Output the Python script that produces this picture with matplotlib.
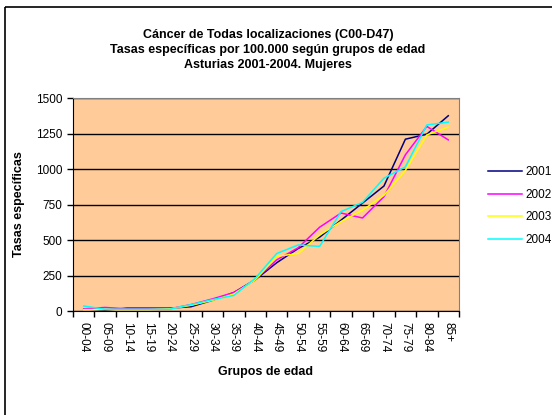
import numpy as np
import matplotlib
matplotlib.use("Agg")
import matplotlib.pyplot as plt
from matplotlib.patches import Rectangle
from matplotlib.transforms import Affine2D

plt.rcParams['font.family'] = ['Liberation Sans', 'DejaVu Sans']

grupos = ["00-04", "05-09", "10-14", "15-19", "20-24", "25-29", "30-34", "35-39", "40-44",
          "45-49", "50-54", "55-59", "60-64", "65-69", "70-74", "75-79", "80-84", "85+"]
t2001 = [15, 5, 20, 20, 20, 30, 75, 130, 220, 340, 440, 520, 640, 760, 880, 1210, 1245, 1375]
t2002 = [15, 25, 15, 15, 15, 45, 85, 130, 220, 360, 445, 590, 690, 655, 805, 1100, 1300, 1205]
t2003 = [10, 10, 10, 10, 15, 40, 75, 120, 220, 385, 405, 535, 630, 710, 815, 990, 1240, 1295]
t2004 = [35, 12, 12, 12, 12, 45, 80, 110, 230, 405, 465, 455, 700, 765, 935, 1015, 1310, 1330]

series = [("2001", t2001, "#000080"), ("2002", t2002, "#FF00FF"),
          ("2003", t2003, "#FFFF00"), ("2004", t2004, "#00FFFF")]

fig = plt.figure(figsize=(5.52, 4.15), dpi=100)
W, H = 552, 415
ax = fig.add_axes([73 / W, 1 - 311 / H, (459 - 73) / W, (311 - 98) / H])
ax.set_facecolor("#FFCC99")

x = np.arange(len(grupos))
for name, vals, col in series:
    ax.plot(x, vals, color=col, lw=1.1, label=name)

ax.set_xlim(-0.5, len(grupos) - 0.5)
ax.set_ylim(0, 1500)
ax.set_yticks(np.arange(0, 1501, 250))
ax.tick_params(axis='y', labelsize=8.5, length=4, width=1)
ax.yaxis.grid(True, color='black', lw=1)
ax.set_axisbelow(True)

ax.set_xticks(x)
ax.set_xticklabels(grupos, rotation=-90, fontsize=8.5)
ax.tick_params(axis='x', which='major', length=0, pad=8)
ax.set_xticks(np.arange(-0.5, len(grupos)), minor=True)
ax.tick_params(axis='x', which='minor', length=4, width=1)

for s in ['top', 'right']:
    ax.spines[s].set_color('#808080')
for s in ['left', 'bottom']:
    ax.spines[s].set_color('black')

ax.set_xlabel("Grupos de edad", fontsize=9, fontweight='bold')
ax.xaxis.set_label_coords(0.5, (311 - 366) / 213)
ax.set_ylabel("Tasas específicas", fontsize=9, fontweight='bold', va='center')
ax.yaxis.set_label_coords((19 - 73) / 386, 0.5)

fig.text(268 / W, 1 - 50 / H,
         "Cáncer de Todas localizaciones (C00-D47)\n"
         "Tasas específicas por 100.000 según grupos de edad\n"
         "Asturias 2001-2004. Mujeres",
         ha='center', va='center', fontsize=9, fontweight='bold', linespacing=1.35)

ax.legend(loc='center left', bbox_to_anchor=(488 / W, 1 - 206 / H), bbox_transform=fig.transFigure,
          frameon=False, fontsize=8.5, handlelength=2.9, labelspacing=0.9, handletextpad=0.3,
          borderpad=0, borderaxespad=0)

frame = Rectangle((5, 7), 600, 500, fill=False, edgecolor='black', lw=1.2)
frame.set_transform(Affine2D().scale(1, -1).translate(0, H))
fig.patches.append(frame)

fig.savefig("out.png", dpi=100)
